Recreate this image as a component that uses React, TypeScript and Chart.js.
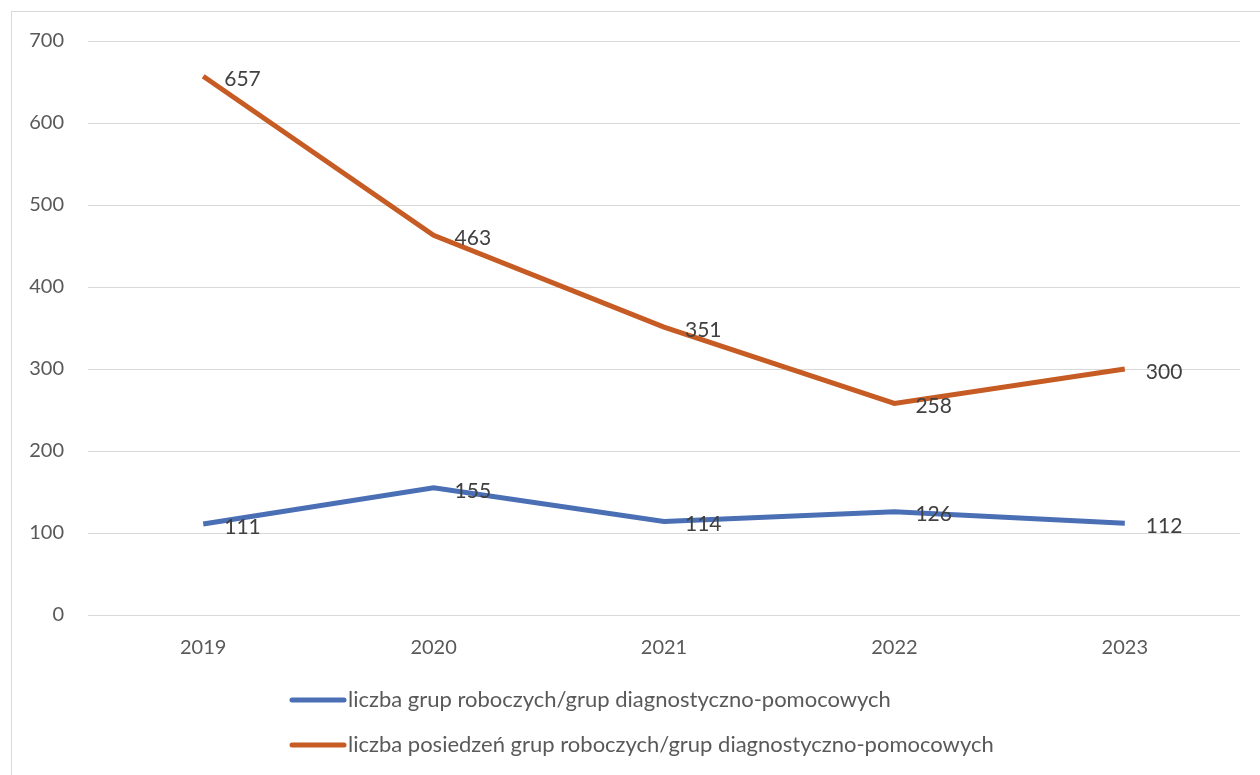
import React, { useEffect, useRef } from "react";
import { Chart, registerables } from "chart.js";

Chart.register(...registerables);

const years = ["2019", "2020", "2021", "2022", "2023"];
const groupsCount = [111, 155, 114, 126, 112];
const meetingsCount = [657, 463, 351, 258, 300];
const seriesLabels = [
  "liczba grup roboczych/grup diagnostyczno-pomocowych",
  "liczba posiedzeń grup roboczych/grup diagnostyczno-pomocowych",
];
const yTicks = [0, 100, 200, 300, 400, 500, 600, 700];

const BLUE = "#4A6FB5";
const ORANGE = "#C65B24";
const FONT = "Lato, 'Open Sans', sans-serif";

const framePlugin = {
  id: "frame",
  beforeDraw(chart: any) {
    const ctx = chart.ctx;
    ctx.save();
    ctx.fillStyle = "#ffffff";
    ctx.fillRect(0, 0, chart.width, chart.height);
    ctx.strokeStyle = "#d9d9d9";
    ctx.lineWidth = 1;
    ctx.strokeRect(11.5, 11.5, chart.width, chart.height);
    ctx.restore();
  },
};

const labelsPlugin = {
  id: "valueLabels",
  afterDatasetsDraw(chart: any) {
    const ctx = chart.ctx;
    ctx.save();
    ctx.font = `21px ${FONT}`;
    ctx.fillStyle = "#404040";
    ctx.textAlign = "left";
    ctx.textBaseline = "middle";
    chart.data.datasets.forEach((ds: any, i: number) => {
      const meta = chart.getDatasetMeta(i);
      meta.data.forEach((pt: any, j: number) => {
        ctx.fillText(String(ds.data[j]), pt.x + 21, pt.y + 3);
      });
    });
    ctx.restore();
  },
};

const legendPlugin = {
  id: "customLegend",
  afterDraw(chart: any) {
    const ctx = chart.ctx;
    ctx.save();
    ctx.font = `22px ${FONT}`;
    ctx.fillStyle = "#595959";
    ctx.textBaseline = "middle";
    ctx.textAlign = "left";
    const rows = [700, 745];
    chart.data.datasets.forEach((ds: any, i: number) => {
      const y = rows[i];
      ctx.strokeStyle = ds.borderColor;
      ctx.lineWidth = 5;
      ctx.lineCap = "round";
      ctx.beginPath();
      ctx.moveTo(292, y);
      ctx.lineTo(344, y);
      ctx.stroke();
      ctx.fillText(ds.label, 348, y);
    });
    ctx.restore();
  },
};

export default function App() {
  const ref = useRef<HTMLCanvasElement>(null);
  useEffect(() => {
    if (!ref.current) return;
    const chart = new Chart(ref.current, {
      type: "line",
      data: {
        labels: years,
        datasets: [
          {
            label: seriesLabels[0],
            data: groupsCount,
            borderColor: BLUE,
            backgroundColor: BLUE,
            borderWidth: 5,
            pointRadius: 0,
            tension: 0,
          },
          {
            label: seriesLabels[1],
            data: meetingsCount,
            borderColor: ORANGE,
            backgroundColor: ORANGE,
            borderWidth: 5,
            pointRadius: 0,
            tension: 0,
          },
        ],
      },
      options: {
        animation: false,
        responsive: false,
        maintainAspectRatio: false,
        layout: { padding: { top: 41, right: 20, bottom: 110, left: 0 } },
        plugins: { legend: { display: false }, tooltip: { enabled: false } },
        scales: {
          x: {
            offset: true,
            grid: { display: false, drawTicks: false },
            border: { display: false },
            ticks: { color: "#595959", font: { size: 20, family: FONT }, padding: 21 },
            afterFit: (s: any) => {
              s.height = 50;
            },
          },
          y: {
            min: 0,
            max: 700,
            afterBuildTicks: (s: any) => {
              s.ticks = yTicks.map((v) => ({ value: v }));
            },
            grid: { color: "#d9d9d9", lineWidth: 1, drawTicks: false },
            border: { display: false },
            ticks: { color: "#595959", font: { size: 20, family: FONT }, padding: 24 },
            afterFit: (s: any) => {
              s.width = 88;
            },
          },
        },
      },
      plugins: [framePlugin, labelsPlugin, legendPlugin],
    });
    return () => chart.destroy();
  }, []);
  return (
    <div style={{ position: "fixed", left: 0, top: 0, width: 1260, height: 775 }}>
      <canvas ref={ref} width={1260} height={775} style={{ display: "block" }} />
    </div>
  );
}
